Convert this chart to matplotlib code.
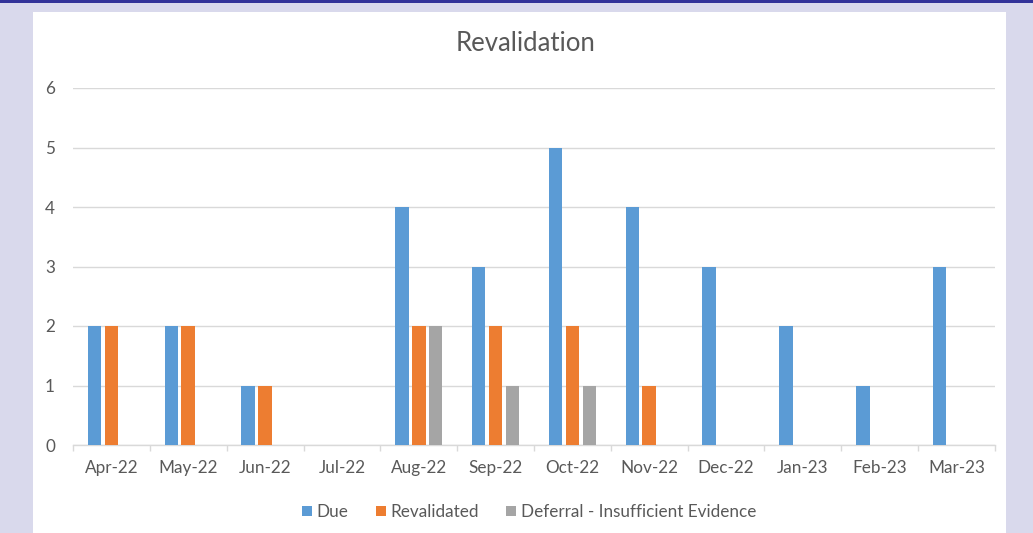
import numpy as np
import matplotlib
matplotlib.use("Agg")
from matplotlib import pyplot as plt
from matplotlib.patches import Rectangle

plt.rcParams['font.family'] = ['Lato', 'DejaVu Sans']

months = ["Apr-22", "May-22", "Jun-22", "Jul-22", "Aug-22", "Sep-22",
          "Oct-22", "Nov-22", "Dec-22", "Jan-23", "Feb-23", "Mar-23"]
due = [2, 2, 1, 0, 4, 3, 5, 4, 3, 2, 1, 3]
revalidated = [2, 2, 1, 0, 2, 2, 2, 1, 0, 0, 0, 0]
deferral = [0, 0, 0, 0, 2, 1, 1, 0, 0, 0, 0, 0]

series = [("Due", due, "#5B9BD5"),
          ("Revalidated", revalidated, "#ED7D31"),
          ("Deferral - Insufficient Evidence", deferral, "#A5A5A5")]

W, H = 1033, 533
fig = plt.figure(figsize=(W / 100, H / 100), dpi=100, facecolor="#D9D9EC")

# page frame: dark strip on top, white chart panel
fig.patches.append(Rectangle((0, 1 - 3 / H), 1, 3 / H, transform=fig.transFigure,
                             facecolor="#333399", edgecolor="none", zorder=0))
fig.patches.append(Rectangle((33 / W, 0), (1006 - 33) / W, (H - 12) / H,
                             transform=fig.transFigure, facecolor="white",
                             edgecolor="none", zorder=0))

ax = fig.add_axes([73 / W, (H - 445) / H, (995 - 73) / W, (445 - 88) / H])
ax.set_zorder(2)
ax.set_facecolor("none")

x = np.arange(len(months))
bw = 0.176
step = 0.221
for i, (name, vals, col) in enumerate(series):
    ax.bar(x + (i - 1) * step, vals, width=bw, color=col, label=name, zorder=3)

ax.set_xlim(-0.5, len(months) - 0.5)
ax.set_ylim(0, 6)
ax.set_yticks(range(7))
ax.set_xticks(x)
ax.set_xticklabels(months)
ax.set_xticks(np.arange(-0.5, len(months)), minor=True)

for s in ["top", "right", "left"]:
    ax.spines[s].set_visible(False)
ax.spines["bottom"].set_color("#D9D9D9")
ax.spines["bottom"].set_linewidth(1)

ax.grid(axis="y", color="#D9D9D9", linewidth=1, zorder=0)
ax.tick_params(axis="y", length=0, pad=13, labelsize=12.3, labelcolor="#595959")
ax.tick_params(axis="x", which="major", length=0, pad=11, labelsize=12.3,
               labelcolor="#595959")
ax.tick_params(axis="x", which="minor", length=4, color="#D9D9D9", width=1)

fig.text(526 / W, 1 - 43 / H, "Revalidation", ha="center", va="center",
         fontsize=18.5, color="#595959")

fig.legend(loc="center", bbox_to_anchor=(529 / W, 1 - 512 / H), ncol=3,
           frameon=False, fontsize=12.3, labelcolor="#595959",
           handlelength=0.6, handleheight=0.6, handletextpad=0.25,
           columnspacing=1.6)

fig.savefig("out.png", dpi=100, facecolor=fig.get_facecolor())
